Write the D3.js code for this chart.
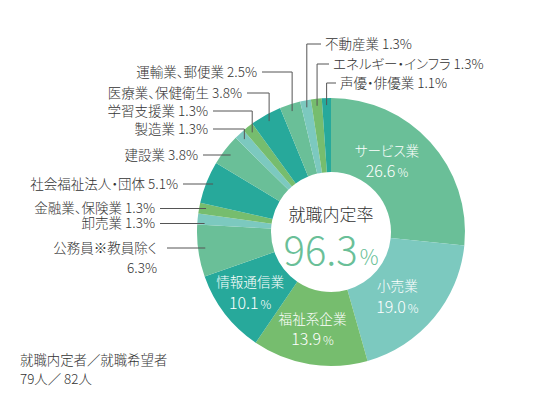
<!DOCTYPE html>
<html>
<head>
<meta charset="utf-8">
<script src="https://cdn.jsdelivr.net/npm/d3@7"></script>
<style>
body { margin: 0; background: #fff; }
svg { font-family: "Noto Sans CJK JP", "Noto Sans", sans-serif; font-weight: 300; font-feature-settings: "palt"; }
</style>
</head>
<body>
<svg id="chart" width="548" height="410"></svg>
<script>
// data
var categories = ['サービス業', '小売業', '福祉系企業', '情報通信業', '公務員※教員除く', '卸売業', '金融業、保険業',
	'社会福祉法人・団体', '建設業', '製造業', '学習支援業', '医療業、保健衛生', '運輸業、郵便業', '不動産業',
	'エネルギー・インフラ', '声優・俳優業']
var shares = [26.6, 19.0, 13.9, 10.1, 6.3, 1.3, 1.3, 5.1, 3.8, 1.3, 1.3, 3.8, 2.5, 1.3, 1.3, 1.1]
var rateLabel = '就職内定率'
var rateValue = '96.3'
var noteLines = ['就職内定者／就職希望者', '79人／ 82人']

var palette = ['#6abf98', '#7cc9bf', '#76bd6e', '#27a99b']

var svg = d3.select('#chart')
var cx = 331, cy = 232
var outerR = 134, innerR = 60

var pie = d3.pie().sort(null).value(d => d)
var arcs = pie(shares)
var arc = d3.arc().innerRadius(innerR).outerRadius(outerR)

var g = svg.append('g').attr('transform', 'translate(' + cx + ',' + cy + ')')

g.selectAll('path.slice')
	.data(arcs)
	.enter()
	.append('path')
	.attr('class', 'slice')
	.attr('d', arc)
	.style('fill', (d, i) => palette[i % 4])

// labels inside the big slices
var inner = [
	{ i: 0, dx: -16, dy: -4 },
	{ i: 1, dx: -8, dy: 4 },
	{ i: 2, dx: -3, dy: 3 },
	{ i: 3, dx: -4, dy: 3 }
]
var labelArc = d3.arc().innerRadius(97).outerRadius(97)
inner.forEach(function (o) {
	var c = labelArc.centroid(arcs[o.i])
	var t = g.append('g').attr('transform', 'translate(' + (c[0] + o.dx) + ',' + (c[1] + o.dy) + ')')
	t.append('text')
		.attr('text-anchor', 'middle')
		.attr('y', -7)
		.style('fill', '#fff')
		.style('font-size', '13.6px')
		.text(categories[o.i])
	var p = t.append('text')
		.attr('text-anchor', 'middle')
		.attr('y', 14.5)
		.style('fill', '#fff')
		.style('font-size', '16px')
	p.append('tspan').text(shares[o.i].toFixed(1))
	p.append('tspan').style('font-size', '12px').attr('dx', 2).text('%')
})

// outside labels with leader lines
// side: 'L' text right aligned ending at x, 'R' text left aligned starting at x
var outer = [
	{ i: 4, side: 'L', x: 157, y: 248, elbow: false, wrap: true },
	{ i: 5, side: 'L', x: 155, y: 223.5, elbow: false },
	{ i: 6, side: 'L', x: 155, y: 208.5, elbow: false },
	{ i: 7, side: 'L', x: 178, y: 184, elbow: false },
	{ i: 8, side: 'L', x: 198, y: 155, elbow: false },
	{ i: 9, side: 'L', x: 208, y: 129, elbow: true },
	{ i: 10, side: 'L', x: 208, y: 111, elbow: true },
	{ i: 11, side: 'L', x: 242, y: 93, elbow: true },
	{ i: 12, side: 'L', x: 257, y: 72, elbow: true },
	{ i: 13, side: 'R', x: 325, y: 44, elbow: true },
	{ i: 14, side: 'R', x: 333, y: 64, elbow: true },
	{ i: 15, side: 'R', x: 340, y: 83, elbow: true }
]
var pointArc = d3.arc().innerRadius(127).outerRadius(127)
outer.forEach(function (o) {
	var c = pointArc.centroid(arcs[o.i])
	var px = c[0] + cx, py = c[1] + cy
	var startX = o.side == 'L' ? o.x + (o.wrap ? 10 : 5) : o.x - 4
	var d = 'M' + startX + ',' + o.y + 'H' + px
	if (o.elbow) d += 'V' + py
	svg.append('path')
		.attr('d', d)
		.style('fill', 'none')
		.style('stroke', '#555')
		.style('stroke-width', 1)
	var txt = svg.append('text')
		.attr('x', o.x)
		.attr('y', o.y + 4.6)
		.attr('text-anchor', o.side == 'L' ? 'end' : 'start')
		.style('fill', '#333')
		.style('font-size', '13.5px')
	if (o.wrap) {
		txt.text(categories[o.i])
		svg.append('text')
			.attr('x', o.x)
			.attr('y', o.y + 24.6)
			.attr('text-anchor', 'end')
			.style('fill', '#333')
			.style('font-size', '13.5px')
			.text(shares[o.i].toFixed(1) + '%')
	} else {
		txt.text(categories[o.i] + ' ' + shares[o.i].toFixed(1) + '%')
	}
})

// centre
g.append('text')
	.attr('text-anchor', 'middle')
	.attr('y', -11)
	.style('fill', '#333')
	.style('font-size', '17px')
	.text(rateLabel)
var big = g.append('text')
	.attr('text-anchor', 'middle')
	.attr('y', 33)
	.style('fill', '#6abf98')
	.style('font-size', '40px')
big.append('tspan').text(rateValue)
big.append('tspan').style('font-size', '21px').attr('dx', 2).text('%')

// note
noteLines.forEach(function (s, i) {
	svg.append('text')
		.attr('x', 20)
		.attr('y', 365 + i * 19)
		.style('fill', '#333')
		.style('font-size', '13.4px')
		.text(s)
})
</script>
</body>
</html>
